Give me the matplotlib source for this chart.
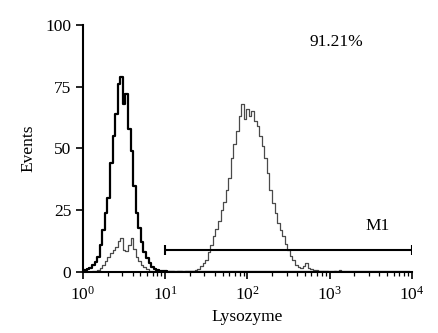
import numpy as np
import matplotlib
matplotlib.use("Agg")
from matplotlib import pyplot as plt

# channel numbers (64 channels per decade, every 2nd channel shown)
channels = np.arange(0, 256, 2)

# control (black) histogram
control = [0.3, 0.7, 1.2, 1.8, 2.8, 4.2, 6, 11, 17, 24, 30, 44, 55, 64, 76, 79,
           68, 72, 58, 49, 35, 24, 18, 12, 8, 5.5, 3.5, 2, 1.2, 0.8, 0.6, 0.4,
           0.3, 0.2] + [0] * 94

# lysozyme stained (gray) histogram
stained = [0, 0, 0, 0, 0.3, 0.5, 1, 1.8, 3, 4.5, 6, 7.5, 9, 10, 12.5, 13.6,
           9, 8.5, 11, 13.6, 9.5, 6, 4.5, 3, 2, 1.3, 0.6, 0.3,
           0.4, 0.3, 0.5, 0.3, 0.2, 0.3, 0.5, 0.3, 0.2, 0.4, 0.3, 0.2, 0.3, 0.5,
           0.3, 0.6, 0.8, 1.2,
           2.5, 3.5, 5, 8, 11, 14.5, 17.5, 20.5, 25, 28.5, 33, 38, 46, 52, 57, 63,
           68, 62, 66, 63, 65, 61, 59, 55, 51, 46, 40, 33, 28, 24, 20, 17,
           14.5, 11.5, 9, 6.5, 5, 3, 2, 1.6, 2.5, 3.5, 1.8, 1.2, 1, 0.9, 0.6, 0.4,
           0.5, 0.3, 0.2, 0, 0.3, 0, 0.8, 0.2] + [0] * 26

yticks = [0, 25, 50, 75, 100]
marker_range = (10, 1e4)
marker_level = 9
percent_text = "91.21%"

plt.rcParams["font.family"] = ["Liberation Serif", "DejaVu Serif"]
plt.rcParams["mathtext.fontset"] = "custom"
plt.rcParams["mathtext.rm"] = "Liberation Serif"
plt.rcParams["mathtext.it"] = "Liberation Serif:italic"

fig = plt.figure(figsize=(4.38, 3.33), dpi=100)
ax = fig.add_axes([0.1895, 0.1832, 0.7511, 0.7418])

xvals = 10 ** (channels / 64.0)
ax.plot(xvals, stained, drawstyle="steps-mid", color="#4a4a4a", lw=0.9)
ax.plot(xvals, control, drawstyle="steps-mid", color="black", lw=1.6)

# M1 marker
ax.hlines(marker_level, marker_range[0], marker_range[1], color="black", lw=1.5)
ax.vlines(marker_range, marker_level - 2, marker_level + 2, color="black", lw=1.5)
ax.text(10 ** 3.58, 18.5, "M1", fontsize=12.5, ha="center", va="center")
ax.text(10 ** 3.08, 93, percent_text, fontsize=12.5, ha="center", va="center")

ax.set_xscale("log")
ax.set_xlim(1, 1e4)
ax.set_ylim(0, 100)
ax.set_yticks(yticks)
ax.set_xticks([1, 10, 100, 1000, 10000])
ax.set_xticklabels([r"$10^{%d}$" % i for i in range(5)])
ax.spines["top"].set_visible(False)
ax.spines["right"].set_visible(False)
for s in ["left", "bottom"]:
    ax.spines[s].set_linewidth(1.5)
ax.tick_params(axis="both", which="major", direction="out", length=5, width=1.2,
               labelsize=12.5)
ax.tick_params(axis="x", which="major", pad=5)
ax.tick_params(axis="x", which="minor", direction="out", length=3, width=0.9)
ax.set_xlabel("Lysozyme", fontsize=12.5, labelpad=4)
ax.set_ylabel("Events", fontsize=12.5, labelpad=6)

fig.savefig("out.png", dpi=100)
